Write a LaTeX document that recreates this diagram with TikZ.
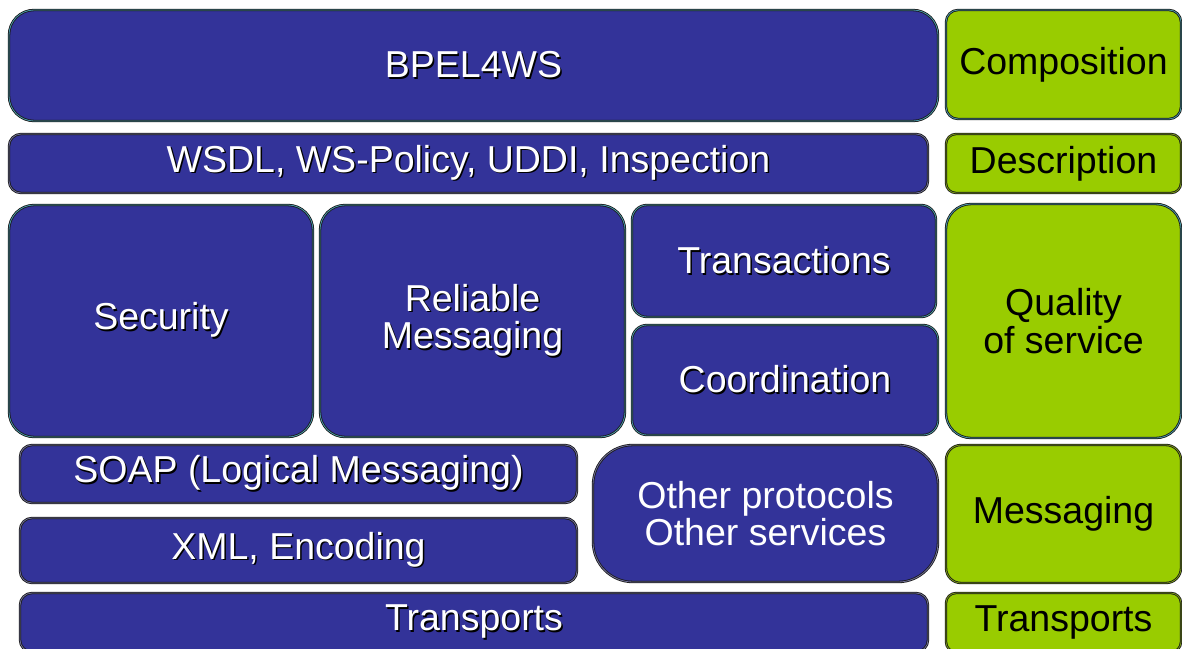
\documentclass[tikz,border=0pt]{standalone}
\usepackage{fontspec}
\setmainfont{Liberation Sans}
\begin{document}
\begin{tikzpicture}[x=1pt,y=-1pt]
\newcommand{\shd}[1]{\makebox[0pt][l]{\hspace*{1.5pt}\raisebox{-1.5pt}{\color{black}#1}}#1}
\definecolor{layerblue}{RGB}{51,51,153}
\definecolor{aspectgreen}{RGB}{153,204,0}
\definecolor{tealrim}{RGB}{72,150,165}
\definecolor{greyrim}{RGB}{110,110,150}
\definecolor{olivrim}{RGB}{120,150,20}
\tikzstyle{box}=[rectangle,inner sep=0pt,align=center,draw=black!90,line width=0.8pt,double distance=0.8pt,font=\fontsize{37.5}{37.5}\selectfont]
\tikzstyle{layer}=[box,fill=layerblue,text=white]
\tikzstyle{aspect}=[box,fill=aspectgreen,text=black]
\tikzstyle{teal}=[double=tealrim]
\tikzstyle{grey}=[double=greyrim]
\tikzstyle{olive}=[double=olivrim]
\useasboundingbox (0,0) rectangle (1182,648);
\clip (0,0) rectangle (1182,648);
\fill[white] (0,0) rectangle (1182,648);
% layers
\node[layer,teal,minimum width=929pt,minimum height=111pt,rounded corners=25pt] (bpel) at (473.5,65.5) {\shd{BPEL4WS}};
\node[layer,grey,minimum width=919pt,minimum height=59pt,rounded corners=12pt] (wsdl) at (468.5,163.5) {\shd{WSDL, WS-Policy, UDDI, Inspection}};
\node[layer,teal,minimum width=304pt,minimum height=232pt,rounded corners=25pt] (security) at (161,321) {\shd{Security}};
\node[layer,teal,minimum width=305pt,minimum height=232pt,rounded corners=25pt] (reliable) at (472.5,321) {\shd{Reliable}\\\shd{Messaging}};
\node[layer,teal,minimum width=304pt,minimum height=112pt,rounded corners=15pt] (transactions) at (784,261) {\shd{Transactions}};
\node[layer,teal,minimum width=306pt,minimum height=110pt,rounded corners=15pt] (coordination) at (785,380) {\shd{Coordination}};
\node[layer,grey,minimum width=557pt,minimum height=58pt,rounded corners=12pt] (soap) at (298.5,474) {\shd{SOAP (Logical Messaging)}};
\node[layer,grey,minimum width=557pt,minimum height=65pt,rounded corners=12pt] (xml) at (298.5,550.5) {\shd{XML, Encoding}};
\node[layer,grey,minimum width=345pt,minimum height=137pt,rounded corners=40pt] (other) at (765.5,513.5) {Other protocols\\Other services};
\node[layer,grey,minimum width=908pt,minimum height=59pt,rounded corners=12pt] (transports) at (474,622.5) {\shd{Transports}};
% aspects
\node[aspect,teal,minimum width=235pt,minimum height=109pt,rounded corners=12pt] (composition) at (1063.5,64.5) {Composition};
\node[aspect,olive,minimum width=235pt,minimum height=59pt,rounded corners=10pt] (description) at (1063.5,163.5) {Description};
\node[aspect,teal,minimum width=235pt,minimum height=234pt,rounded corners=25pt] (quality) at (1063.5,321) {Quality\\of service};
\node[aspect,olive,minimum width=235pt,minimum height=138pt,rounded corners=15pt] (messaging) at (1063.5,514) {Messaging};
\node[aspect,olive,minimum width=235pt,minimum height=59pt,rounded corners=10pt] (transportsaspect) at (1063.5,622.5) {Transports};
\end{tikzpicture}
\end{document}
